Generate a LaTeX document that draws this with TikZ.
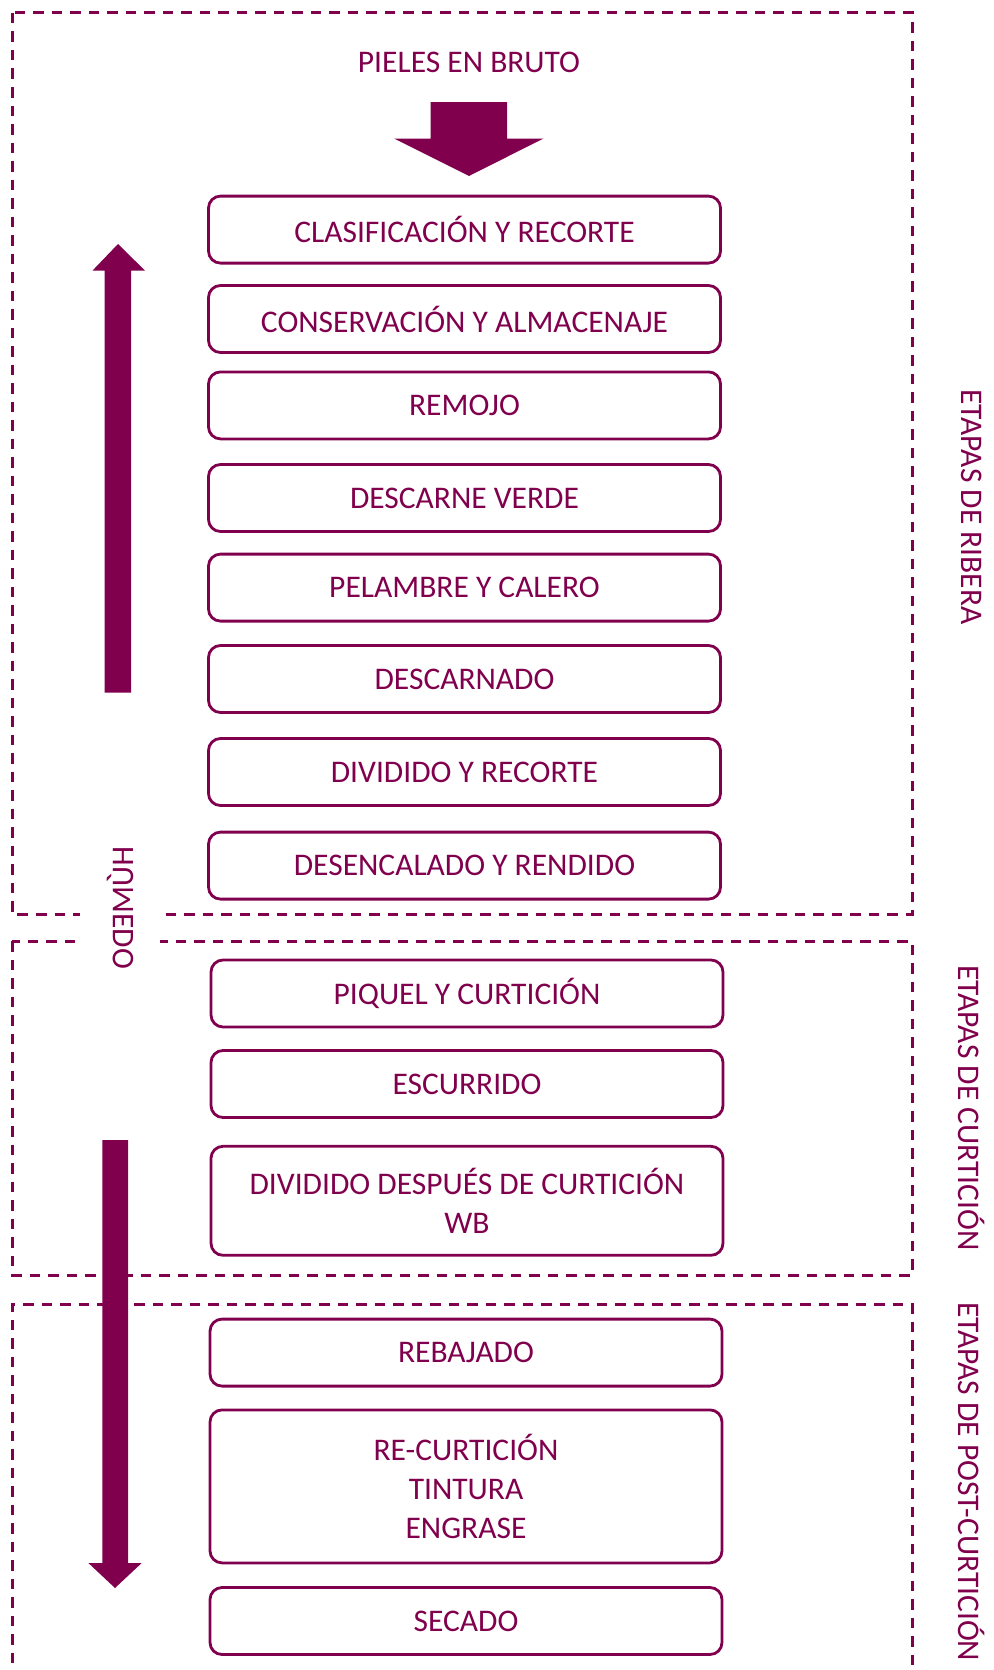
\documentclass[tikz,border=0pt]{standalone}
\usepackage{fontspec}
\setmainfont{Carlito}
\usepackage{xcolor}
\definecolor{vino}{RGB}{128,0,77}

\begin{document}
\begin{tikzpicture}[x=1pt,y=-1pt]
 	\tikzstyle{every node}+=[inner sep=0pt, text=vino, font=\fontsize{31.5}{39}\selectfont]
 	\tikzstyle{etapa}=[draw=vino, line width=2.8pt, rounded corners=12pt, minimum width=512pt, minimum height=67pt, align=center]
 	\tikzstyle{grupo}=[draw=vino, line width=3pt, dash pattern=on 10.5pt off 8pt]
 	\useasboundingbox (0,0) rectangle (993,1670);
 	% grupos de etapas
 	\draw [grupo] (12,13) rectangle (912,914);
 	\draw [grupo] (12,941) rectangle (912,1275);
 	\draw [grupo] (12,1700) -- (12,1304) -- (912,1304) -- (912,1700);
 	% entrada
 	\node (pieles) at (469,62) {PIELES EN BRUTO};
 	\fill [vino] (430.5,102) -- (507,102) -- (507,138.5) -- (543.5,138.5) -- (469,176) -- (394,138.5) -- (430.5,138.5) -- cycle;
 	% ribera
 	\node [etapa] (clasif) at (464.5,229.6) {CLASIFICACIÓN Y RECORTE};
 	\node [etapa] (conserv) at (464.5,319) {CONSERVACIÓN Y ALMACENAJE};
 	\node [etapa] (remojo) at (464.5,405.4) {REMOJO};
 	\node [etapa] (descverde) at (464.5,498) {DESCARNE VERDE};
 	\node [etapa] (pelambre) at (464.5,587.6) {PELAMBRE Y CALERO};
 	\node [etapa] (descarnado) at (464.5,679) {DESCARNADO};
 	\node [etapa] (dividido) at (464.5,772) {DIVIDIDO Y RECORTE};
 	\node [etapa] (desencalado) at (464.5,865.6) {DESENCALADO Y RENDIDO};
 	% curticion
 	\node [etapa] (piquel) at (467,993.5) {PIQUEL Y CURTICIÓN};
 	\node [etapa] (escurrido) at (467,1084) {ESCURRIDO};
 	\node [etapa, minimum height=109pt] (divwb) at (467,1200.8) {DIVIDIDO DESPUÉS DE CURTICIÓN\\WB};
 	% post-curticion
 	\node [etapa] (rebajado) at (466,1352.6) {REBAJADO};
 	\node [etapa, minimum height=153pt] (recurt) at (466,1486.4) {RE-CURTICIÓN\\TINTURA\\ENGRASE};
 	\node [etapa] (secado) at (466,1621) {SECADO};
 	% humedo
 	\fill [vino] (104.5,692.6) -- (104.5,270.6) -- (92.5,270.6) -- (118,244) -- (145,270.6) -- (131,270.6) -- (131,692.6) -- cycle;
 	\fill [vino] (102.3,1140) -- (102.3,1563) -- (88.4,1563) -- (115,1588) -- (141.7,1563) -- (128,1563) -- (128,1140) -- cycle;
 	\node [rotate=-90, yscale=-1, fill=white, minimum height=80pt] (humedo) at (120,908) {HÚMEDO};
 	% etiquetas
 	\node [rotate=-90] (ribera) at (972,507) {ETAPAS DE RIBERA};
 	\node [rotate=-90] (curticion) at (972,1108) {ETAPAS DE CURTICIÓN};
 	\node [rotate=-90, anchor=west] (post) at (972,1302) {ETAPAS DE POST-CURTICIÓN};
\end{tikzpicture}
\end{document}
